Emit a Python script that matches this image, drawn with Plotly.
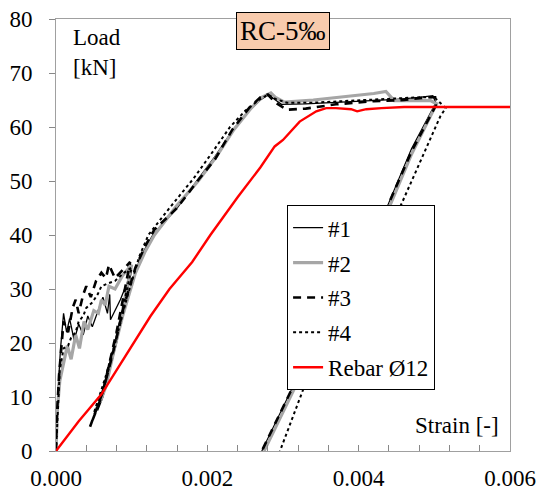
import plotly.graph_objects as go

# ---- data ----
s1_strain = [0, 0.00001, 0.00003, 0.00006, 0.0001, 0.00014, 0.00018, 0.00024, 0.0003, 0.00036, 0.00042, 0.00048,
             0.00056, 0.00062, 0.00068, 0.00071, 0.00072, 0.00085, 0.00095, 0.001, 0.0008, 0.00062, 0.00055,
             0.0007, 0.00085, 0.001, 0.00112, 0.00128, 0.0016, 0.00186, 0.0021, 0.00234, 0.00255, 0.0027,
             0.00281, 0.0029, 0.00298, 0.0033, 0.0037, 0.0041, 0.0045, 0.0048, 0.00498, 0.00502, 0.0047,
             0.00434, 0.0038, 0.00317, 0.00272]
s1_load = [0, 5, 12, 19, 25.5, 22, 24.5, 20.5, 23.5, 21.5, 25, 23,
           26, 28.5, 25.5, 29, 24.3, 28, 31.5, 33.5, 20, 10, 7.5,
           16, 24, 31, 36, 40, 45, 50, 54.5, 59.5, 63, 65,
           66, 65, 64.2, 64.3, 64.6, 64.8, 65.1, 65.5, 65.8, 64.5, 56,
           44, 30, 13, 0]

s2_strain = [0, 0.00002, 0.00005, 0.0001, 0.00015, 0.0002, 0.00026, 0.00031, 0.00037, 0.00042, 0.0005, 0.00056,
             0.0006, 0.00065, 0.0007, 0.00078, 0.00088, 0.001, 0.00082, 0.00066, 0.00058, 0.0007, 0.00088,
             0.00105, 0.00118, 0.0013, 0.0016, 0.00188, 0.00212, 0.00235, 0.00258, 0.00272, 0.00284, 0.0029,
             0.00302, 0.0034, 0.0038, 0.0042, 0.00436, 0.00447, 0.0047, 0.00495, 0.00503, 0.0047, 0.00437,
             0.0038, 0.0032, 0.00275]
s2_load = [0, 8, 13, 16, 19.5, 17, 21.5, 19, 24, 22.5, 26, 25.5,
           28, 27, 30.5, 30, 32.5, 34.5, 22, 12, 9, 15, 25,
           33, 37, 40, 45.5, 50, 54.5, 59.5, 63.5, 65.5, 66.3, 65.5,
           64.6, 65, 65.6, 66.2, 66.6, 64.9, 64.9, 64.9, 64.3, 55, 44,
           29, 13, 0]

s3_strain = [0, 0.00001, 0.00004, 0.00008, 0.0001, 0.00016, 0.00022, 0.00026, 0.0003, 0.00036, 0.0004, 0.00046,
             0.00053, 0.0006, 0.00066, 0.0007, 0.00078, 0.00088, 0.00098, 0.0008, 0.00062, 0.00045, 0.0006,
             0.00075, 0.0009, 0.00105, 0.00118, 0.0013, 0.0016, 0.00187, 0.0021, 0.00233, 0.00255, 0.0027,
             0.0028, 0.0029, 0.00305, 0.0033, 0.0037, 0.0042, 0.0046, 0.0049, 0.00501, 0.00502, 0.0047,
             0.00434, 0.0038, 0.00317, 0.00272]
s3_load = [0, 6, 14, 20, 24, 22, 26.5, 28, 25.5, 29, 30.5, 28.5,
           31.5, 33, 32, 34.5, 32, 33.5, 35, 22, 11, 4.5, 10,
           18, 27, 34, 38, 41, 45, 50, 54, 59.5, 63.5, 65.5,
           66, 64.5, 63.2, 63.4, 64.2, 64.8, 65, 65.5, 65.5, 64, 55.5,
           44, 30, 13, 0]

s4_strain = [0, 0.00002, 0.00005, 0.0001, 0.00016, 0.0002, 0.00026, 0.0003, 0.00036, 0.0004, 0.00048, 0.00055,
             0.0006, 0.00068, 0.00078, 0.0009, 0.001, 0.0008, 0.00064, 0.0005, 0.00065, 0.0008, 0.00095,
             0.0011, 0.00122, 0.0015, 0.00182, 0.00205, 0.0023, 0.0025, 0.00268, 0.0028, 0.0029, 0.00305,
             0.0034, 0.0038, 0.0043, 0.0048, 0.005, 0.00515, 0.00508, 0.0048, 0.00451, 0.0039, 0.00331, 0.00296]
s4_load = [0, 7, 15, 19, 19.5, 21, 22, 24, 25, 26.5, 27.5, 29,
           30.5, 31, 31.5, 33, 34, 21, 12, 7, 13.5, 21, 29,
           36, 40, 45, 50.5, 55, 60, 63, 65, 66, 65.2, 64.5,
           64.5, 64.8, 65.2, 65.5, 65.5, 63.5, 62, 53, 44, 28, 13, 0]

rebar_strain = [0, 0.0003, 0.0006, 0.0008, 0.00102, 0.00125, 0.0015, 0.0018, 0.00204, 0.0024, 0.0027, 0.00289,
                0.003, 0.00322, 0.00344, 0.00357, 0.0037, 0.0039, 0.00398, 0.0041,
                0.0043, 0.0046, 0.005, 0.006]
rebar_load = [0, 5.5, 10.5, 15, 20, 25, 30, 35, 40, 47, 52.5, 56.4,
              57.6, 61, 62.9, 63.5, 63.5, 63.3, 62.9, 63.3,
              63.5, 63.7, 63.7, 63.7]

series_names = ["#1", "#2", "#3", "#4", "Rebar Ø12"]

FONT = "Liberation Serif"

fig = go.Figure()
styles = [
    dict(color="black", width=1.3, dash="solid"),
    dict(color="#a6a6a6", width=3.2, dash="solid"),
    dict(color="black", width=2.6, dash="8px,6px"),
    dict(color="black", width=2.0, dash="dot"),
    dict(color="#ff0000", width=2.4, dash="solid"),
]
data = [(s1_strain, s1_load), (s2_strain, s2_load), (s3_strain, s3_load),
        (s4_strain, s4_load), (rebar_strain, rebar_load)]
for i, ((xs, ys), name, st) in enumerate(zip(data, series_names, styles)):
    fig.add_trace(go.Scatter(x=xs, y=ys, mode="lines", name=name, line=st,
                             legendgroup=f"g{i}"))

fig.update_layout(
    width=537, height=494,
    margin=dict(l=56, r=27, t=19, b=43, autoexpand=False),
    plot_bgcolor="white", paper_bgcolor="white",
    font=dict(family=FONT, size=23, color="black"),
    showlegend=True,
    legend=dict(x=0.509, y=0.569, xanchor="left", yanchor="top",
                bordercolor="black", borderwidth=1, bgcolor="white",
                font=dict(family=FONT, size=23), tracegroupgap=2,
                itemwidth=30),
    xaxis=dict(range=[0, 0.006], tickvals=[0, 0.002, 0.004, 0.006],
               tickformat=".3f", ticks="inside", ticklen=6, tickcolor="#888888",
               minor=dict(dtick=0.0004, ticks="inside", ticklen=6, tickcolor="#888888"),
               showline=True, linecolor="#a0a0a0", linewidth=1, mirror=True,
               showgrid=False, zeroline=False, tickfont=dict(family=FONT, size=23),
               ticklabelstandoff=6, automargin=False),
    yaxis=dict(range=[0, 80], dtick=10, ticks="outside", ticklen=6, tickcolor="#888888",
               showline=True, linecolor="#a0a0a0", linewidth=1, mirror=True,
               showgrid=False, zeroline=False, tickfont=dict(family=FONT, size=23),
               ticklabelstandoff=12, automargin=False),
)

fig.add_annotation(x=0.5, y=1.0, xref="paper", yref="paper", xanchor="center", yanchor="middle",
                   xshift=0, yshift=-12,
                   text="RC-5‰", showarrow=False, font=dict(family=FONT, size=27),
                   bgcolor="#f8cbad", bordercolor="black", borderwidth=1, borderpad=3)
fig.add_annotation(x=0.034, y=0.99, xref="paper", yref="paper", xanchor="left", yanchor="top",
                   text="Load<br>[kN]", showarrow=False, align="left",
                   font=dict(family=FONT, size=23))
fig.add_annotation(x=0.98, y=0.025, xref="paper", yref="paper", xanchor="right", yanchor="bottom",
                   text="Strain [-]", showarrow=False, font=dict(family=FONT, size=23))

fig.write_html("out.html", config={"displayModeBar": False},
               post_script="document.body.style.margin='0px';")
